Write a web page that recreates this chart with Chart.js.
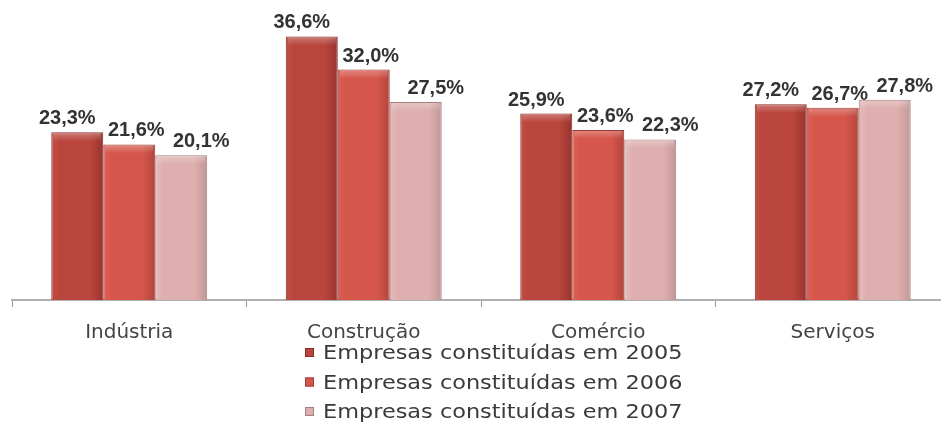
<!DOCTYPE html>
<html>
<head>
<meta charset="utf-8">
<script src="https://cdn.jsdelivr.net/npm/chart.js@4"></script>
<style>
  html, body { margin: 0; padding: 0; background: #fff; overflow: hidden; }
  #wrap { position: relative; width: 952px; height: 432px; }
</style>
</head>
<body>
<div id="wrap"><canvas id="grafico"></canvas></div>
<script>
// setores e percentagens por ano de constituição
const setores = ['Indústria', 'Construção', 'Comércio', 'Serviços']
const anos = ['2005', '2006', '2007']
const v2005 = [23.3, 36.6, 25.9, 27.2]
const v2006 = [21.6, 32.0, 23.6, 26.7]
const v2007 = [20.1, 27.5, 22.3, 27.8]

// lado claro, centro, lado escuro, borda
const cores = [
  ['#c44e45', '#b9453c', '#98342e', '#862c27'],
  ['#de6055', '#d5564b', '#b4453d', '#9e3d36'],
  ['#e6bcbb', '#deafae', '#c39797', '#a48282']
]

// deslocamento horizontal dos rótulos de cada série
const desvioRotulo = [-10, 7, 20]

const fonteNum = '"Liberation Sans", Arial, sans-serif'
const fonteTxt = '"DejaVu Sans", Verdana, sans-serif'

const fmt = (v) => v.toFixed(1).replace('.', ',') + '%'

// gradiente horizontal + reflexo no topo para dar relevo às barras
const relevo = {
  id: 'relevo',
  beforeDatasetsDraw (chart) {
    const { ctx } = chart
    chart.data.datasets.forEach((ds, i) => {
      chart.getDatasetMeta(i).data.forEach((bar) => {
        const x0 = bar.x - bar.width / 2
        const g = ctx.createLinearGradient(x0, 0, x0 + bar.width, 0)
        g.addColorStop(0, cores[i][0])
        g.addColorStop(0.15, cores[i][1])
        g.addColorStop(0.75, cores[i][1])
        g.addColorStop(1, cores[i][2])
        bar.options.backgroundColor = g
      })
    })
  },
  afterDatasetsDraw (chart) {
    const { ctx } = chart
    ctx.save()
    chart.data.datasets.forEach((ds, i) => {
      chart.getDatasetMeta(i).data.forEach((bar) => {
        const x0 = bar.x - bar.width / 2
        const g = ctx.createLinearGradient(0, bar.y, 0, bar.y + 9)
        g.addColorStop(0, 'rgba(255,255,255,0.3)')
        g.addColorStop(1, 'rgba(255,255,255,0)')
        ctx.fillStyle = g
        ctx.fillRect(x0 + 2, bar.y + 1, bar.width - 4, 9)
      })
    })
    ctx.restore()
  }
}

// rótulos de valor por cima das barras
const rotulos = {
  id: 'rotulos',
  afterDatasetsDraw (chart) {
    const { ctx } = chart
    ctx.save()
    ctx.font = 'bold 20px ' + fonteNum
    ctx.fillStyle = '#333'
    ctx.textAlign = 'center'
    ctx.textBaseline = 'alphabetic'
    chart.data.datasets.forEach((ds, i) => {
      chart.getDatasetMeta(i).data.forEach((bar, j) => {
        ctx.fillText(fmt(ds.data[j]), bar.x + desvioRotulo[i], bar.y - 8)
      })
    })
    ctx.restore()
  }
}

// legenda em coluna, por baixo do eixo
const legenda = {
  id: 'legenda',
  afterDraw (chart) {
    const { ctx } = chart
    ctx.save()
    chart.data.datasets.forEach((ds, i) => {
      const base = 359 + i * 29.5
      ctx.fillStyle = cores[i][1]
      ctx.fillRect(305, base - 11, 9, 9)
      ctx.strokeStyle = cores[i][3]
      ctx.lineWidth = 1
      ctx.strokeRect(305.5, base - 10.5, 8, 8)
      ctx.save()
      ctx.translate(323, base)
      ctx.scale(1.12, 1)
      ctx.font = '20px ' + fonteTxt
      ctx.textBaseline = 'alphabetic'
      ctx.fillStyle = '#3a3a3a'
      ctx.fillText(ds.label, 0, 0)
      ctx.restore()
    })
    ctx.restore()
  }
}

const series = [v2005, v2006, v2007]

new Chart(document.getElementById('grafico'), {
  type: 'bar',
  data: {
    labels: setores,
    datasets: series.map((valores, i) => ({
      label: 'Empresas constituídas em ' + anos[i],
      data: valores,
      // função para que cada barra tenha as suas próprias opções
      backgroundColor: () => cores[i][1],
      borderColor: cores[i][3],
      borderWidth: 1,
      barPercentage: 1,
      categoryPercentage: 0.665
    }))
  },
  options: {
    responsive: true,
    maintainAspectRatio: false,
    animation: false,
    layout: { padding: { left: 12, right: 2, top: 12, bottom: 73 } },
    plugins: {
      legend: { display: false },
      tooltip: { enabled: false }
    },
    scales: {
      x: {
        grid: {
          display: true,
          drawOnChartArea: false,
          offset: true,
          tickLength: 7,
          color: '#999'
        },
        border: { display: true, color: '#b0b0b0', width: 2 },
        ticks: {
          padding: 14,
          color: '#444',
          font: { family: fonteTxt, size: 20 }
        }
      },
      y: {
        display: false,
        min: 0,
        max: 40
      }
    }
  },
  plugins: [relevo, rotulos, legenda]
})
</script>
</body>
</html>
